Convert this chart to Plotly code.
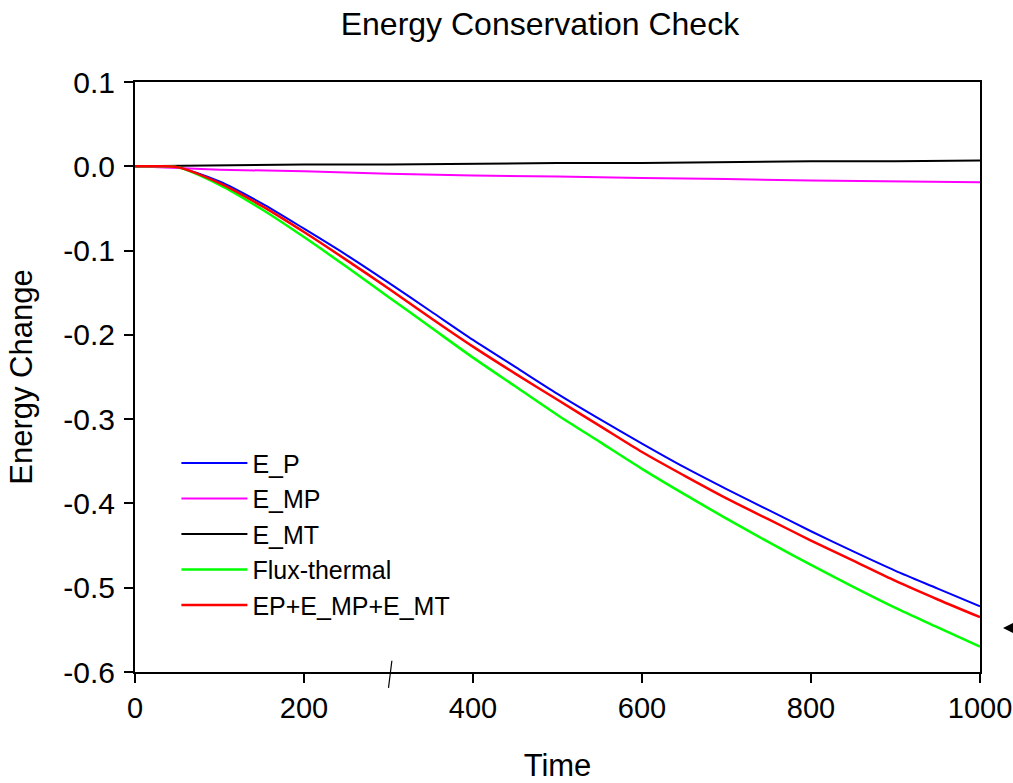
import plotly.graph_objects as go

time = [0, 25, 50, 100, 150, 200, 250, 300, 350, 400, 450, 500,
        550, 600, 650, 700, 750, 800, 850, 900, 950, 1000]

e_p = [0, 0, -0.001, -0.018, -0.044, -0.074, -0.105, -0.138, -0.172, -0.206, -0.238, -0.270,
       -0.300, -0.329, -0.357, -0.383, -0.408, -0.433, -0.457, -0.480, -0.501, -0.522]
e_sum = [0, 0, -0.001, -0.020, -0.047, -0.078, -0.111, -0.145, -0.180, -0.214, -0.246, -0.277,
         -0.308, -0.339, -0.367, -0.394, -0.419, -0.444, -0.468, -0.492, -0.514, -0.535]
flux_thermal = [0, 0, -0.001, -0.022, -0.051, -0.084, -0.119, -0.155, -0.191, -0.227, -0.261, -0.295,
                -0.327, -0.359, -0.389, -0.418, -0.446, -0.473, -0.499, -0.524, -0.547, -0.570]

time_m = [0, 100, 200, 300, 400, 500, 600, 700, 800, 900, 1000]
e_mp = [0, -0.004, -0.006, -0.009, -0.011, -0.012, -0.014, -0.015, -0.017, -0.018, -0.019]
e_mt = [0, 0.001, 0.002, 0.002, 0.003, 0.004, 0.004, 0.005, 0.006, 0.006, 0.007]

y_ticks = [0.1, 0.0, -0.1, -0.2, -0.3, -0.4, -0.5, -0.6]
y_labels = ["0.1", "0.0", "-0.1", "-0.2", "-0.3", "-0.4", "-0.5", "-0.6"]
x_ticks = [0, 200, 400, 600, 800, 1000]

FONT = "Liberation Sans, Arial, sans-serif"

fig = go.Figure()
fig.add_trace(go.Scatter(x=time, y=e_p, name="E_P", mode="lines",
                         line=dict(color="#0000ff", width=2, shape="spline", smoothing=0.8)))
fig.add_trace(go.Scatter(x=time_m, y=e_mp, name="E_MP", mode="lines",
                         line=dict(color="#ff00ff", width=2)))
fig.add_trace(go.Scatter(x=time_m, y=e_mt, name="E_MT", mode="lines",
                         line=dict(color="#000000", width=2)))
fig.add_trace(go.Scatter(x=time, y=flux_thermal, name="Flux-thermal", mode="lines",
                         line=dict(color="#00ff00", width=2.5, shape="spline", smoothing=0.8)))
fig.add_trace(go.Scatter(x=time, y=e_sum, name="EP+E_MP+E_MT", mode="lines",
                         line=dict(color="#ff0000", width=2.5, shape="spline", smoothing=0.8)))

axis_common = dict(showline=True, linecolor="black", linewidth=2, mirror=True,
                   ticks="outside", ticklen=9, tickwidth=2, tickcolor="black",
                   showgrid=False, zeroline=False, automargin=False)

fig.update_xaxes(range=[0, 1000], tickvals=x_ticks, ticklabeloverflow="allow",
                 tickfont=dict(family=FONT, size=29, color="black"),
                 title=dict(text="Time", font=dict(family=FONT, size=31, color="black"),
                            standoff=34),
                 **axis_common)
fig.update_yaxes(range=[-0.6, 0.1], tickvals=y_ticks, ticktext=y_labels,
                 ticklabelstandoff=3,
                 tickfont=dict(family=FONT, size=30, color="black"),
                 title=dict(text="Energy Change", font=dict(family=FONT, size=31, color="black"),
                            standoff=21),
                 **axis_common)

# axis break mark and right-side arrow marker
fig.add_shape(type="line", xref="x", yref="paper", x0=300, x1=304, y0=-0.027, y1=0.019,
              line=dict(color="black", width=1.2))
fig.add_shape(type="path", xref="paper", yref="paper",
              path="M 1.0272,0.0746 L 1.0414,0.0848 L 1.0414,0.0644 Z",
              fillcolor="black", line=dict(color="black", width=0))

fig.update_layout(
    width=1013, height=783,
    margin=dict(l=135, r=33, t=82, b=111),
    paper_bgcolor="white", plot_bgcolor="white",
    title=dict(text="Energy Conservation Check", x=0.533, xanchor="center",
               y=0.969, yanchor="middle",
               font=dict(family=FONT, size=32, color="black")),
    legend=dict(x=0.049, y=0.393, xanchor="left", yanchor="top",
                bgcolor="rgba(0,0,0,0)", borderwidth=0,
                font=dict(family=FONT, size=25, color="black"),
                itemwidth=66, tracegroupgap=0),
    showlegend=True,
)

fig.write_html("out.html",
               config={"displayModeBar": False},
               post_script="document.body.style.margin='0';document.body.style.overflow='hidden';")
